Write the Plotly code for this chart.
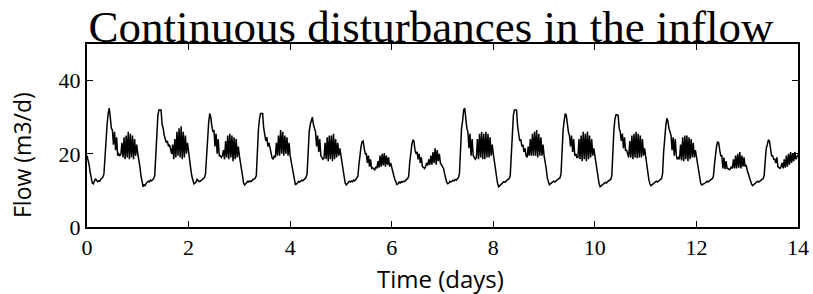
import numpy as np
import plotly.graph_objects as go

# Flow readings (m3/d), 48 half-hour samples per day
day0 = [19.5, 18.5, 17, 15, 13, 12, 11.8, 12.5, 13.2, 12.8, 12.4, 12.6, 12.5, 13, 13.4, 13.6,
        14.5, 20, 26, 28, 31, 32.5, 30, 27,
        26.5, 22.5, 26, 21, 24.5, 19.5, 20, 19.5,
        19.8, 23, 19, 24.5, 18.5, 25, 19, 26,
        18.5, 25.5, 19, 25, 18.5, 24, 19.5, 22.5]
day1 = [20, 18.5, 16.5, 14, 12, 11, 11.5, 11.3, 12, 12.2, 12.5, 12.3, 12.8, 12.6, 13, 13.2,
        14, 21, 27, 30.5, 32, 32, 32, 28,
        27, 25, 24, 23, 23.5, 22, 22.5, 21.5,
        20, 22.5, 18.5, 24, 19, 26, 19.5, 27,
        19, 27.5, 18.5, 26, 19, 25, 20, 23]
day2 = [20, 18, 16, 14, 12.5, 11.8, 12, 12.3, 13, 12.6, 12.4, 12.5, 12.8, 13, 13.2, 13.5,
        14.5, 20.5, 26, 28.5, 31, 30, 27.5, 26,
        26.5, 22, 25.5, 20, 24, 19.5, 19.5, 19,
        19.5, 21, 18.5, 23.5, 19, 25, 18.5, 25.5,
        19, 25, 18, 24.5, 18.5, 24, 19, 22]
day3 = [19.5, 18, 16.5, 14, 12, 11.5, 11.8, 12.2, 12.5, 12.3, 12.6, 12.4, 12.8, 13, 13.1, 13.4,
        14, 21, 26.5, 29.5, 31, 31, 31, 27,
        25, 23.5, 24.5, 22, 23, 21.5, 20, 18.8,
        18.5, 19.5, 19, 23, 19.5, 25, 19.5, 26.5,
        20, 26, 19.5, 25, 20, 24.5, 19.5, 23]
day4 = [19.5, 18, 16, 14, 12.5, 11.5, 11.8, 12, 12.5, 12.3, 12.5, 12.8, 12.6, 13, 13.2, 13.5,
        14.5, 20.5, 26, 28, 29.5, 30, 28, 26.5,
        26, 22, 25, 20.5, 24, 19.5, 19, 18.5,
        18.8, 23, 18.5, 24.5, 18, 25, 18.5, 25,
        18, 25.5, 18.5, 24, 19, 23, 19.5, 21.5]
day5 = [19.5, 17.5, 15, 13, 12, 11.5, 11.8, 12.2, 12.5, 12.3, 12.6, 12.4, 12.8, 12.6, 13, 13.2,
        13.8, 17, 20.5, 22, 23.3, 23.5, 21.5, 20,
        20, 17.5, 19.5, 16.5, 18.5, 16, 16.2, 15.8,
        15.6, 16.5, 16, 18, 16.2, 19.5, 16.5, 20,
        16.8, 20.2, 16.5, 19.5, 17, 19, 16.5, 17.5]
day6 = [16, 15, 14, 13, 12.2, 11.6, 11.8, 12.3, 12, 12.4, 12.2, 12.5, 12.4, 12.8, 13, 13.2,
        13.8, 17.5, 21, 22.5, 23.8, 23.5, 21, 20,
        20.5, 18.5, 20, 17.5, 19, 16.5, 16.3, 16,
        16.5, 17.5, 16.8, 18.5, 17, 19.5, 17, 20.5,
        17.5, 21.5, 17, 21, 18, 20, 17.5, 17]
day7 = [16.5, 16, 14.5, 13, 12.2, 11.8, 12, 12.5, 12.3, 12.5, 12.8, 12.6, 13, 12.8, 13.2, 13.5,
        14.5, 21, 27, 29, 32, 32.5, 29, 27,
        26, 21.5, 25.5, 19.5, 24, 19.5, 19, 18.5,
        19, 24, 18.5, 25.5, 19, 26, 18.5, 25.5,
        18.5, 26, 19, 25.5, 19, 24.5, 19.5, 22.5]
day8 = [20, 18, 16, 13.5, 12, 11, 11.3, 11.5, 12, 12.2, 12.4, 12.2, 12.6, 12.8, 13, 13.2,
        14, 21, 27, 30.5, 32, 32, 32, 27.5,
        25, 23.5, 24, 22, 22.5, 20.5, 21.5, 19.5,
        19, 22, 19.5, 24, 19.5, 25.5, 19.5, 26,
        19.5, 26.5, 19, 25.5, 19.5, 24.5, 19.5, 22.5]
day9 = [19.5, 18, 16, 13.5, 12, 11.5, 11.8, 12, 12.2, 12.5, 12.3, 12.6, 12.8, 13, 13.2, 13.4,
        14.5, 21, 26.5, 29, 31, 30.5, 27.5, 26,
        25, 22, 25, 20.5, 24, 19.5, 20, 19,
        19, 24, 18.5, 25, 18, 26, 18.5, 25.5,
        18, 26, 18.5, 25, 19, 24, 19.5, 21.5]
day10 = [19.5, 17.5, 15.5, 13, 11.8, 11, 11.3, 11.5, 11.8, 12, 12.2, 12, 12.4, 12.6, 12.8, 13,
         14, 21, 26.5, 29.5, 30.7, 30.7, 30.5, 27,
         26, 23.5, 25.5, 21.5, 24.5, 21, 21, 20,
         19, 23.5, 19, 25, 18.5, 25.5, 19, 26,
         18.8, 25.5, 19, 25, 19, 24, 19.5, 21.5]
day11 = [19, 17, 15, 13, 11.8, 11.3, 11.5, 11.8, 12, 12.3, 12.5, 12.3, 12.6, 12.8, 13, 13.2,
         14.5, 20.5, 25.5, 27.5, 29.7, 29, 27, 25.5,
         25, 21, 24.5, 19.5, 24, 19.5, 18.5, 19,
         18.5, 22.5, 18.2, 24.5, 18, 25, 18.5, 25,
         18, 24.5, 18.5, 24, 19, 23, 19, 21]
day12 = [19, 17, 15, 13, 12, 11.5, 11.6, 11.8, 12, 12.2, 12.5, 12.3, 12.6, 12.8, 13, 13.2,
         13.8, 17, 20.5, 22, 23.3, 23, 21, 19.5,
         19.5, 16, 19, 15.8, 18, 16, 16, 15.7,
         15.8, 16.5, 16, 18.5, 16, 19.5, 16, 20,
         16.2, 20.5, 16, 19.5, 16.5, 19, 16.5, 17]
day13 = [15.5, 14.5, 13.5, 12.5, 11.8, 11.3, 11.5, 11.8, 12, 12.2, 12.5, 12.3, 12.6, 12.8, 13, 13.2,
         14, 18, 21.5, 22.5, 23.8, 23.5, 21, 19.5,
         19.5, 18.5, 18.5, 17.5, 19, 16.5, 16.2, 16,
         16.5, 17.5, 16, 18.5, 16.2, 19.5, 16.5, 20,
         17, 20.5, 17.5, 20, 18, 20.5, 18.5, 19.5]
final_value = [19.8]

x_tick_vals = [0, 2, 4, 6, 8, 10, 12, 14]
y_tick_vals = [0, 20, 40]

flow = (day0 + day1 + day2 + day3 + day4 + day5 + day6 + day7 + day8 + day9
        + day10 + day11 + day12 + day13 + final_value)
samples_per_day = 48
time = np.arange(len(flow)) / samples_per_day

fig = go.Figure()
fig.add_trace(go.Scatter(x=time, y=flow, mode="lines",
                         line=dict(color="black", width=1.5), showlegend=False,
                         hoverinfo="skip"))

serif = "Liberation Serif"
sans = "Open Sans"
W, H = 813, 294
L, R, T, B = 87, 15, 44, 67
pw, ph = W - L - R, H - T - B


def px_x(sx):
    return (sx - L) / pw


def px_y(sy):
    return (H - B - sy) / ph


fig.update_layout(
    width=W, height=H,
    margin=dict(l=L, r=R, t=T, b=B),
    paper_bgcolor="white", plot_bgcolor="white",
    title=dict(text="Continuous disturbances in the inflow",
               font=dict(family=serif, size=45, color="black"),
               x=431 / W, xanchor="center", xref="container",
               y=0.858, yanchor="bottom", yref="container"),
    xaxis=dict(range=[0, 14], tickvals=x_tick_vals, ticks="inside", ticklen=6,
               tickwidth=1, tickcolor="black", mirror="ticks", showline=True,
               linecolor="black", linewidth=2, showgrid=False, zeroline=False,
               automargin=False,
               tickfont=dict(family=serif, size=22, color="black")),
    yaxis=dict(range=[0, 50], tickvals=y_tick_vals, ticks="inside", ticklen=6,
               tickwidth=1, tickcolor="black", mirror="ticks", showline=True,
               linecolor="black", linewidth=2, showgrid=False, zeroline=False,
               automargin=False,
               tickfont=dict(family=serif, size=22, color="black")),
    annotations=[
        dict(text="Time (days)", xref="paper", yref="paper",
             x=px_x(440), y=px_y(278), xanchor="center", yanchor="middle",
             showarrow=False, font=dict(family=sans, size=24, color="black")),
        dict(text="Flow (m3/d)", xref="paper", yref="paper", textangle=-90,
             x=px_x(22), y=px_y(155), xanchor="center", yanchor="middle",
             showarrow=False, font=dict(family=sans, size=23, color="black")),
    ],
)

fig.write_html("out.html", config={"displayModeBar": False},
               post_script="document.body.style.margin='0';document.body.style.overflow='hidden';")
